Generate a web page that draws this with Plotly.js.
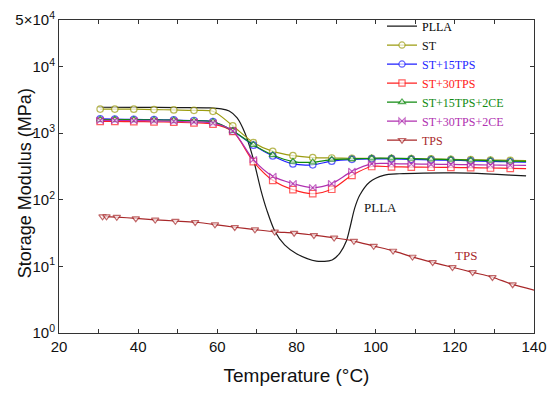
<!DOCTYPE html>
<html>
<head>
<meta charset="utf-8">
<script src="https://cdn.plot.ly/plotly-3.0.1.min.js"></script>
<style>
  html, body { margin: 0; padding: 0; background: #fff; }
  #chart { width: 550px; height: 397px; }
</style>
</head>
<body>
<div id="chart"></div>
<script>
// temperatures (°C) where the filled series carry a marker
var xTemp = [30.4, 34.1, 38.9, 44, 49, 54.1, 58.9, 63.9, 69.1, 74, 79.1, 84.1, 88.9,
    94, 99, 104, 109, 114, 119, 124, 129, 134, 138];

var stVals = [2300, 2300, 2290, 2260, 2230, 2200, 2130, 1290, 723, 532, 460, 430, 424,
    420, 420, 418, 415, 410, 405, 400, 395, 390, 386];
var st15Vals = [1640, 1630, 1610, 1600, 1580, 1550, 1490, 1080, 660, 455, 345, 335, 380,
    405, 412, 410, 405, 398, 392, 385, 378, 372, 368];
var st30Vals = [1505, 1500, 1490, 1480, 1460, 1430, 1370, 1065, 375, 196, 142, 124, 144,
    233, 316, 312, 310, 308, 306, 303, 300, 296, 293];
var st15ceVals = [1600, 1600, 1590, 1580, 1565, 1530, 1480, 1090, 670, 470, 375, 366, 402,
    410, 420, 420, 415, 406, 402, 392, 388, 380, 377];
var st30ceVals = [1560, 1555, 1545, 1530, 1510, 1480, 1420, 1080, 400, 225, 175, 152, 175,
    267, 346, 350, 345, 342, 340, 336, 333, 330, 328];

// PLLA: plain line
var xPlla = [30, 40, 50, 58, 61, 63, 65, 67, 69, 71, 72.5, 74.5, 77, 80, 85, 89, 91, 92.6,
    93.5, 94.7, 96, 98.5, 102, 106, 112, 120, 128, 134, 138];
var pllaVals = [2450, 2440, 2420, 2400, 2320, 2150, 1700, 1000, 430, 140, 70, 34, 21, 15.5,
    12, 12.5, 16, 24, 38, 75, 118, 185, 233, 246, 252, 253, 245, 235, 228];

// TPS
var xTps = [31.0, 32.0, 34.6, 39.4, 44.3, 49.4, 54.4, 59.4, 64.4, 69.5, 74.5, 79.4, 84.4,
    89.5, 94.5, 99.5, 104.4, 109.3, 114.4, 119.4, 124.5, 129.5, 134.6, 140];
var tpsVals = [56, 56, 55, 52.5, 50, 48, 46, 42.5, 38.7, 35.7, 33, 31.8, 29.4, 26.9, 24,
    20.2, 17.1, 13.9, 11.5, 9.7, 8.15, 6.88, 5.36, 4.4];

var yTicks = [1, 10, 100, 1000, 10000, 50000];
var yTickText = ['10<sup>0</sup>', '10<sup>1</sup>', '10<sup>2</sup>', '10<sup>3</sup>',
    '10<sup>4</sup>', '5×10<sup>4</sup>'];
var xTicks = [20, 30, 40, 50, 60, 70, 80, 90, 100, 110, 120, 130, 140];

// last point is only the end of the line, no marker there
function sizes(xs, s) {
    return xs.map(function (_, i) { return i === xs.length - 1 ? 0 : s; });
}

function series(name, xs, ys, color, symbol, labelColor) {
    return {
        type: 'scatter',
        mode: 'lines+markers',
        x: xs,
        y: ys,
        name: '<span style="color:' + (labelColor || color) + '">' + name + '</span>',
        line: { color: color, width: 1.2, shape: 'spline', smoothing: 0.8 },
        marker: {
            symbol: symbol,
            size: sizes(xs, 6.5),
            color: 'white',
            line: { color: color, width: 1.2 }
        }
    };
}

var data = [
    {
        type: 'scatter', mode: 'lines', x: xPlla, y: pllaVals,
        name: '<span style="color:#000">PLLA</span>',
        line: { color: '#1a1a1a', width: 1.2, shape: 'spline', smoothing: 0.8 }
    },
    series('ST', xTemp, stVals, '#9c9c10', 'circle', '#111'),
    series('ST+15TPS', xTemp, st15Vals, '#1f1fff', 'circle'),
    series('ST+30TPS', xTemp, st30Vals, '#ff2020', 'square'),
    series('ST+15TPS+2CE', xTemp, st15ceVals, '#108a10', 'triangle-up'),
    series('ST+30TPS+2CE', xTemp, st30ceVals, '#b030b0', 'bowtie'),
    series('TPS', xTps, tpsVals, '#a8282a', 'triangle-down')
];

var layout = {
    width: 550,
    height: 397,
    margin: { l: 59, r: 16, t: 16, b: 64 },
    paper_bgcolor: 'white',
    plot_bgcolor: 'white',
    font: { family: 'Liberation Sans, Arial, sans-serif', color: '#111' },
    showlegend: true,
    legend: {
        x: 0.68, y: 1.027, xanchor: 'left', yanchor: 'top',
        bgcolor: 'rgba(0,0,0,0)',
        font: { family: 'Liberation Serif, Times New Roman, serif', size: 12 }
    },
    xaxis: {
        range: [20, 140],
        tickvals: xTicks,
        ticktext: xTicks.map(function (v) { return v % 20 === 0 ? String(v) : ''; }),
        ticks: 'inside', ticklen: 4, tickcolor: '#333',
        showline: true, linecolor: '#333', linewidth: 1, mirror: 'ticks',
        showgrid: false, zeroline: false,
        tickfont: { size: 15 },
        title: { text: 'Temperature (°C)', font: { size: 19 }, standoff: 14 }
    },
    yaxis: {
        type: 'log',
        range: [0, Math.log10(50000)],
        tickvals: yTicks,
        ticktext: yTickText,
        ticks: 'inside', ticklen: 4, tickcolor: '#333',
        showline: true, linecolor: '#333', linewidth: 1, mirror: 'ticks',
        showgrid: false, zeroline: false,
        tickfont: { size: 15 }
    },
    annotations: [
        {
            // y axis title, placed a little below the plot centre as in the original
            x: -0.098, y: 0.48, xref: 'paper', yref: 'paper', textangle: -90,
            text: 'Storage Modulus (MPa)', showarrow: false,
            font: { size: 18, color: '#111' }
        },
        {
            x: 101.1, y: Math.log10(76), xref: 'x', yref: 'y', text: 'PLLA',
            showarrow: false, font: { family: 'Liberation Serif, serif', size: 13, color: '#111' }
        },
        {
            x: 122.8, y: Math.log10(14.4), xref: 'x', yref: 'y', text: 'TPS',
            showarrow: false, font: { family: 'Liberation Serif, serif', size: 13, color: '#a8282a' }
        }
    ]
};

Plotly.newPlot('chart', data, layout, { displayModeBar: false, staticPlot: true });
</script>
</body>
</html>
